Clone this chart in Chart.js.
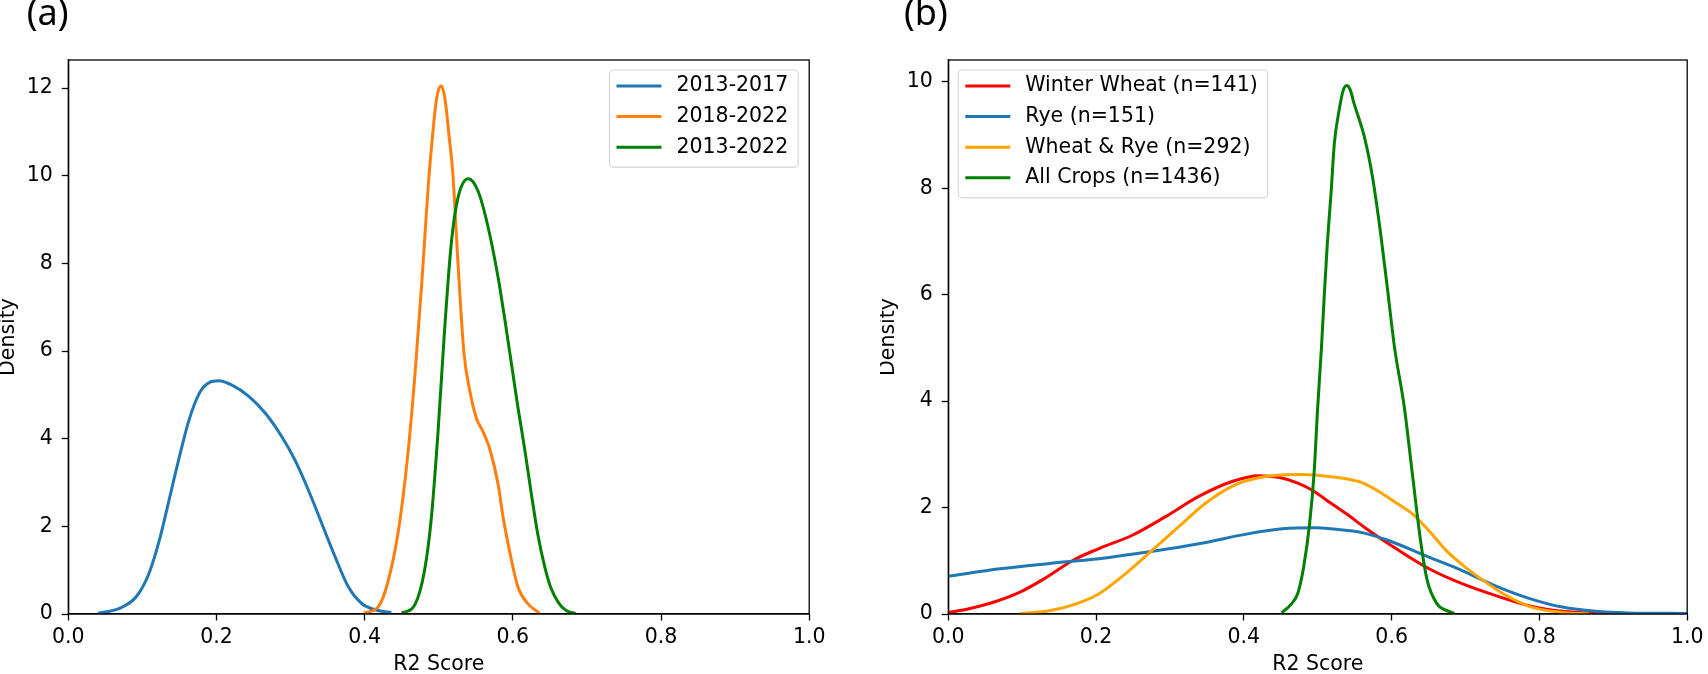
<!DOCTYPE html>
<html>
<head>
<meta charset="utf-8">
<script src="https://cdn.jsdelivr.net/npm/chart.js@4.4.0/dist/chart.umd.min.js"></script>
<style>
html, body { margin: 0; padding: 0; background: #fff; }
body { width: 1708px; height: 674px; position: relative; overflow: hidden; }
.panel { position: absolute; top: 0; height: 674px; }
#wrapA { left: 0; width: 830px; }
#wrapB { left: 880px; width: 828px; }
</style>
</head>
<body>
<div class="panel" id="wrapA"><canvas id="chartA"></canvas></div>
<div class="panel" id="wrapB"><canvas id="chartB"></canvas></div>
<script>
// axis ticks
const xTicks = [0, 0.2, 0.4, 0.6, 0.8, 1.0];
const xTickLabels = ['0.0', '0.2', '0.4', '0.6', '0.8', '1.0'];
const yTicksA = [0, 2, 4, 6, 8, 10, 12];
const yTickLabelsA = ['0', '2', '4', '6', '8', '10', '12'];
const yTicksB = [0, 2, 4, 6, 8, 10];
const yTickLabelsB = ['0', '2', '4', '6', '8', '10'];

// panel (a): density of R2 per period
const periodLabels = ['2013-2017', '2018-2022', '2013-2022'];
const r2_2013_2017 = [0.04, 0.069, 0.092, 0.109, 0.123, 0.136, 0.150, 0.163, 0.177, 0.190, 0.203, 0.221, 0.244, 0.266, 0.288, 0.306, 0.324, 0.342, 0.360, 0.378, 0.396, 0.418, 0.436];
const dens_2013_2017 = [0.02, 0.13, 0.40, 0.93, 1.69, 2.60, 3.59, 4.43, 5.04, 5.28, 5.32, 5.22, 4.96, 4.58, 4.05, 3.51, 2.83, 2.07, 1.31, 0.62, 0.24, 0.08, 0.03];
const r2_2018_2022 = [0.399, 0.419, 0.432, 0.446, 0.459, 0.468, 0.477, 0.486, 0.491, 0.497, 0.503, 0.508, 0.514, 0.519, 0.526, 0.534, 0.542, 0.551, 0.560, 0.569, 0.580, 0.587, 0.596, 0.607, 0.621, 0.636];
const dens_2018_2022 = [0.02, 0.18, 0.77, 1.95, 3.76, 5.49, 7.53, 9.81, 10.80, 11.75, 12.05, 11.80, 10.90, 10.05, 8.00, 5.96, 5.09, 4.46, 4.15, 3.76, 2.97, 2.19, 1.40, 0.61, 0.22, 0.02];
const r2_2013_2022 = [0.450, 0.468, 0.481, 0.490, 0.499, 0.508, 0.517, 0.526, 0.540, 0.553, 0.566, 0.580, 0.589, 0.598, 0.607, 0.616, 0.625, 0.634, 0.643, 0.651, 0.662, 0.672, 0.685];
const dens_2013_2022 = [0.02, 0.22, 1.01, 2.19, 4.15, 6.51, 8.47, 9.50, 9.93, 9.65, 8.87, 7.69, 6.74, 5.72, 4.70, 3.76, 2.74, 1.79, 1.08, 0.61, 0.25, 0.08, 0.01];

// panel (b): density of R2 per crop
const cropLabels = ['Winter Wheat (n=141)', 'Rye (n=151)', 'Wheat & Rye (n=292)', 'All Crops (n=1436)'];
const r2_wheat = [0.0, 0.025, 0.061, 0.097, 0.133, 0.169, 0.204, 0.249, 0.294, 0.339, 0.384, 0.420, 0.447, 0.473, 0.492, 0.518, 0.542, 0.563, 0.608, 0.652, 0.697, 0.742, 0.787, 0.831, 0.876, 0.91];
const dens_wheat = [0.03, 0.09, 0.22, 0.41, 0.69, 1.01, 1.23, 1.48, 1.83, 2.21, 2.49, 2.60, 2.57, 2.46, 2.33, 2.08, 1.85, 1.63, 1.21, 0.84, 0.56, 0.34, 0.15, 0.05, 0.01, 0.0];
const r2_rye = [0.0, 0.070, 0.137, 0.204, 0.272, 0.339, 0.407, 0.452, 0.497, 0.518, 0.563, 0.594, 0.652, 0.688, 0.742, 0.787, 0.831, 0.876, 0.921, 1.0];
const dens_rye = [0.71, 0.85, 0.95, 1.04, 1.17, 1.32, 1.51, 1.60, 1.62, 1.60, 1.52, 1.39, 1.06, 0.86, 0.52, 0.29, 0.13, 0.05, 0.02, 0.01];
const r2_wheatRye = [0.097, 0.137, 0.173, 0.204, 0.240, 0.276, 0.312, 0.348, 0.384, 0.420, 0.474, 0.518, 0.563, 0.608, 0.630, 0.652, 0.674, 0.697, 0.724, 0.751, 0.787, 0.831, 0.867];
const dens_wheatRye = [0.01, 0.06, 0.19, 0.38, 0.76, 1.20, 1.64, 2.08, 2.40, 2.56, 2.62, 2.58, 2.45, 2.07, 1.86, 1.54, 1.19, 0.91, 0.63, 0.38, 0.14, 0.03, 0.0];
const r2_allCrops = [0.451, 0.465, 0.473, 0.481, 0.489, 0.495, 0.500, 0.505, 0.509, 0.513, 0.518, 0.5225, 0.529, 0.534, 0.539, 0.544, 0.549, 0.563, 0.574, 0.585, 0.594, 0.604, 0.617, 0.628, 0.639, 0.648, 0.661, 0.679, 0.685];
const dens_allCrops = [0.02, 0.20, 0.39, 0.89, 1.70, 2.64, 3.90, 5.00, 6.03, 6.97, 7.91, 8.85, 9.47, 9.82, 9.93, 9.85, 9.60, 8.97, 8.22, 7.16, 6.15, 5.00, 3.90, 2.64, 1.39, 0.64, 0.20, 0.04, 0.01];

const FONT = 'DejaVu Sans';
Chart.defaults.font.family = FONT;
Chart.defaults.font.size = 20.5;
Chart.defaults.color = '#000';

function toPoints(xs, ys) {
    return xs.map((x, i) => ({ x: x, y: ys[i] }));
}

function makeSets(labels, xsList, ysList, colors) {
    return labels.map((label, i) => ({
        label: label,
        data: toPoints(xsList[i], ysList[i]),
        borderColor: colors[i],
        borderWidth: 3,
        pointRadius: 0,
        fill: false,
        cubicInterpolationMode: 'monotone',
        order: labels.length - i
    }));
}

// full box around the plot area, like matplotlib spines
const frame = {
    id: 'frame',
    afterDatasetsDraw(chart) {
        const a = chart.chartArea, ctx = chart.ctx;
        ctx.save();
        ctx.strokeStyle = '#000';
        ctx.lineWidth = 1.3;
        ctx.strokeRect(a.left, a.top, a.right - a.left, a.bottom - a.top);
        ctx.restore();
    }
};

// legend drawn inside the axes
const insideLegend = {
    id: 'insideLegend',
    afterDraw(chart, args, opts) {
        const ctx = chart.ctx, a = chart.chartArea;
        const sets = chart.data.datasets;
        ctx.save();
        ctx.font = '20.5px "' + FONT + '"';
        const textW = Math.max(...sets.map(d => ctx.measureText(d.label).width));
        const w = 7 + 45 + 15 + textW + 10;
        const h = 16 + (sets.length - 1) * 30.6 + 20;
        const x = opts.side === 'right' ? a.right - 11 - w : a.left + 10;
        const y = a.top + 10;
        ctx.beginPath();
        ctx.roundRect(x, y, w, h, 4);
        ctx.fillStyle = 'rgba(255,255,255,0.8)';
        ctx.fill();
        ctx.strokeStyle = '#d5d5d5';
        ctx.lineWidth = 1.2;
        ctx.stroke();
        sets.forEach((d, i) => {
            const cy = y + 16 + i * 30.6;
            ctx.beginPath();
            ctx.moveTo(x + 7, cy);
            ctx.lineTo(x + 52, cy);
            ctx.strokeStyle = d.borderColor;
            ctx.lineWidth = 3;
            ctx.stroke();
            ctx.fillStyle = '#000';
            ctx.textAlign = 'left';
            ctx.textBaseline = 'middle';
            ctx.fillText(d.label, x + 67, cy);
        });
        ctx.restore();
    }
};

// "(a)" / "(b)" panel tags
const panelTag = {
    id: 'panelTag',
    afterDraw(chart, args, opts) {
        const ctx = chart.ctx;
        ctx.save();
        ctx.font = '36px "Noto Sans"';
        ctx.fillStyle = '#000';
        ctx.textAlign = 'left';
        ctx.textBaseline = 'alphabetic';
        ctx.fillText(opts.text, chart.chartArea.left + opts.dx, 25);
        ctx.restore();
    }
};

function makeScales(yMax, yTicks, yLabels) {
    return {
        x: {
            type: 'linear',
            min: 0,
            max: 1,
            afterBuildTicks: s => { s.ticks = xTicks.map(v => ({ value: v })); },
            afterFit: s => { s.height = 60; },
            ticks: { callback: (v, i) => xTickLabels[i], padding: 4.5, maxRotation: 0, autoSkip: false },
            grid: { display: true, drawOnChartArea: false, drawTicks: true, tickLength: 6.5, tickWidth: 1.3, tickColor: '#000' },
            border: { display: true, color: '#000', width: 1.3 },
            title: { display: true, text: 'R2 Score', font: { size: 20.5, lineHeight: 0.9 }, padding: { top: 0, bottom: 0 } }
        },
        y: {
            type: 'linear',
            min: 0,
            max: yMax,
            afterBuildTicks: s => { s.ticks = yTicks.map(v => ({ value: v })); },
            afterFit: s => { s.width = 68.3; },
            ticks: { callback: (v, i) => yLabels[i], padding: 9, autoSkip: false },
            grid: { display: true, drawOnChartArea: false, drawTicks: true, tickLength: 6.5, tickWidth: 1.3, tickColor: '#000' },
            border: { display: true, color: '#000', width: 1.3 },
            title: { display: true, text: 'Density', font: { size: 20.5, lineHeight: 0.82 }, padding: { top: 0, bottom: 0 } }
        }
    };
}

function makeChart(id, datasets, scales, side, tag, dx, padRight) {
    return new Chart(document.getElementById(id), {
        type: 'line',
        data: { datasets: datasets },
        options: {
            responsive: true,
            maintainAspectRatio: false,
            animation: false,
            events: [],
            layout: { padding: { top: 60, right: padRight, bottom: 0, left: 0 } },
            scales: scales,
            plugins: {
                legend: { display: false },
                tooltip: { enabled: false },
                insideLegend: { side: side },
                panelTag: { text: tag, dx: dx }
            }
        },
        plugins: [frame, insideLegend, panelTag]
    });
}

const chartA = makeChart('chartA',
    makeSets(periodLabels,
        [r2_2013_2017, r2_2018_2022, r2_2013_2022],
        [dens_2013_2017, dens_2018_2022, dens_2013_2022],
        ['#1f77b4', '#ff7f0e', '#008000']),
    makeScales(12.64, yTicksA, yTickLabelsA), 'right', '(a)', -41.5, 16.7);

const chartB = makeChart('chartB',
    makeSets(cropLabels,
        [r2_wheat, r2_rye, r2_wheatRye, r2_allCrops],
        [dens_wheat, dens_rye, dens_wheatRye, dens_allCrops],
        ['#ff0000', '#1f77b4', '#ffa500', '#008000']),
    makeScales(10.41, yTicksB, yTickLabelsB), 'left', '(b)', -44.3, 16.3);
</script>
</body>
</html>
